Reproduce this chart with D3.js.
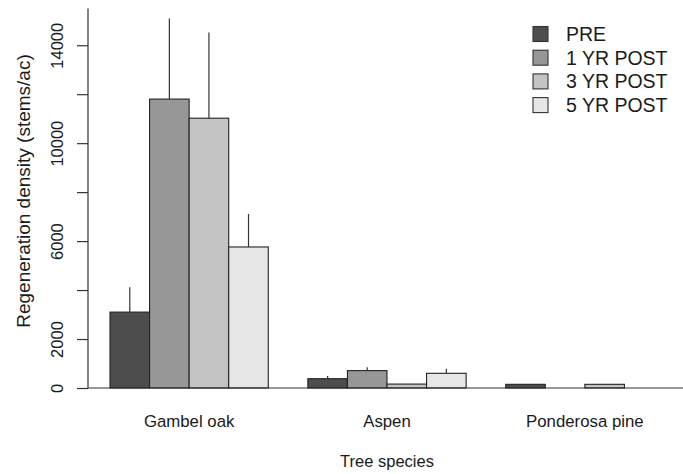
<!DOCTYPE html>
<html>
<head>
<meta charset="utf-8">
<script src="https://cdn.jsdelivr.net/npm/d3@7/dist/d3.min.js"></script>
<style>
  html, body { margin: 0; padding: 0; background: #fff; }
  svg { display: block; font-family: "Liberation Sans", Arial, Helvetica, sans-serif; }
</style>
</head>
<body>
<svg id="chart" width="683" height="474"></svg>
<script>
// Tree species on the x axis
const species = ["Gambel oak", "Aspen", "Ponderosa pine"];
// Sampling periods (one bar each per species)
const periods = ["PRE", "1 YR POST", "3 YR POST", "5 YR POST"];
// Mean regeneration density (stems/ac), one array per period, in species order
const pre      = [3100, 380, 150];
const yr1      = [11800, 710, 0];
const yr3      = [11020, 160, 150];
const yr5      = [5760, 600, 0];
// Upper error bar length (stems/ac), same layout
const pre_err  = [1020, 110, 0];
const yr1_err  = [3290, 135, 0];
const yr3_err  = [3500, 0, 0];
const yr5_err  = [1350, 190, 0];
// Y axis ticks and the subset that carries labels
const yTicks   = [0, 2000, 4000, 6000, 8000, 10000, 12000, 14000];
const yLabeled = [0, 2000, 6000, 10000, 14000];

const seriesMeans = [pre, yr1, yr3, yr5];
const seriesErr = [pre_err, yr1_err, yr3_err, yr5_err];
const fills = ["#4d4d4d", "#979797", "#c4c4c4", "#e6e6e6"];

const rows = [];
species.forEach((sp, i) => {
  periods.forEach((p, j) => {
    rows.push({ species: sp, period: p, value: seriesMeans[j][i], err: seriesErr[j][i] });
  });
});

const svg = d3.select("#chart");

const plotLeft = 88, plotRight = 686, plotTop = 8.5, plotBottom = 388;

// Each species group = one empty slot + four bars (R-style beside barplot)
const unit = (664 - 110) / 14;
const x0 = d3.scaleBand().domain(species).range([110 - unit, 664]).padding(0);
const x1 = d3.scaleBand().domain(periods).range([unit, x0.bandwidth()]).padding(0);
const y = d3.scaleLinear().domain([0, 15500]).range([plotBottom, plotTop]);
const color = d3.scaleOrdinal().domain(periods).range(fills);

// Bars
svg.append("g").selectAll("rect").data(rows).join("rect")
  .attr("x", d => x0(d.species) + x1(d.period))
  .attr("y", d => y(d.value))
  .attr("width", x1.bandwidth())
  .attr("height", d => y(0) - y(d.value))
  .attr("fill", d => color(d.period))
  .attr("stroke", "#222")
  .attr("stroke-width", 1.1);

// Upper error bars
svg.append("g").selectAll("line").data(rows.filter(d => d.err > 0)).join("line")
  .attr("x1", d => x0(d.species) + x1(d.period) + x1.bandwidth() / 2)
  .attr("x2", d => x0(d.species) + x1(d.period) + x1.bandwidth() / 2)
  .attr("y1", d => y(d.value))
  .attr("y2", d => y(d.value + d.err))
  .attr("stroke", "#333")
  .attr("stroke-width", 1.2);

// L-shaped frame
svg.append("path")
  .attr("d", `M${plotLeft},${plotTop}V${plotBottom}H${plotRight}`)
  .attr("fill", "none")
  .attr("stroke", "#333")
  .attr("stroke-width", 1.2);

// Y axis ticks and labels
const yAxis = d3.axisLeft(y)
  .tickValues(yTicks)
  .tickSize(11)
  .tickFormat(d => yLabeled.includes(d) ? String(d) : "");
const yg = svg.append("g").attr("transform", `translate(${plotLeft},0)`).call(yAxis);
yg.select(".domain").remove();
yg.selectAll(".tick line").attr("stroke", "#333").attr("stroke-width", 1.2);
yg.selectAll(".tick text")
  .attr("x", null).attr("dy", null)
  .attr("transform", "translate(-25,0) rotate(-90)")
  .attr("text-anchor", "middle")
  .attr("fill", "#1a1a1a")
  .style("font-size", "16.5px");

// Species labels
const xAxis = d3.axisBottom(x0).tickSize(0).tickPadding(0);
const xg = svg.append("g").attr("transform", `translate(${unit / 2},0)`).call(xAxis);
xg.select(".domain").remove();
xg.selectAll(".tick text")
  .attr("y", 426.5).attr("dy", null)
  .attr("fill", "#1a1a1a")
  .style("font-size", "16.8px");

// Axis titles
svg.append("text")
  .attr("x", (110 + 664) / 2).attr("y", 467)
  .attr("text-anchor", "middle")
  .attr("fill", "#1a1a1a")
  .style("font-size", "16.5px")
  .text("Tree species");

svg.append("text")
  .attr("transform", "translate(29.5,191) rotate(-90)")
  .attr("text-anchor", "middle")
  .attr("fill", "#1a1a1a")
  .style("font-size", "19px")
  .text("Regeneration density (stems/ac)");

// Legend
const legend = svg.append("g").selectAll("g").data(periods).join("g")
  .attr("transform", (d, i) => `translate(533,${34 + i * 23.7})`);
legend.append("rect")
  .attr("x", 0).attr("y", -7.5).attr("width", 15).attr("height", 15)
  .attr("fill", d => color(d))
  .attr("stroke", "#333").attr("stroke-width", 1.1);
legend.append("text")
  .attr("x", 33).attr("y", 7)
  .attr("fill", "#1a1a1a")
  .style("font-size", "19.5px")
  .text(d => d);
</script>
</body>
</html>
